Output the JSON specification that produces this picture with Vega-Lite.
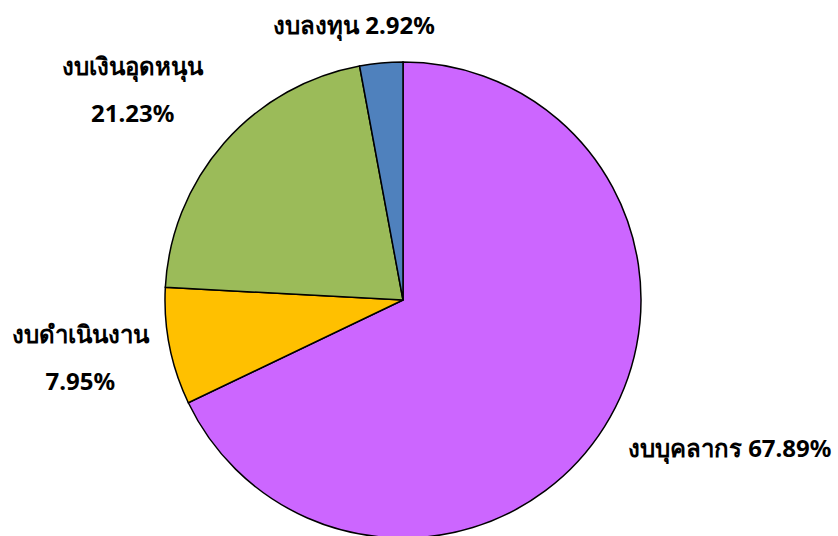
{
  "$schema": "https://vega.github.io/schema/vega-lite/v6.json",
  "autosize": {"type": "none"},
  "width": 806,
  "height": 472,
  "padding": {"left": 0, "top": 64, "right": 32, "bottom": 0},
  "background": "white",
  "data": {
    "values": [
      {"order": 1, "category": "งบบุคลากร", "value": 67.89, "label": "งบบุคลากร 67.89%"},
      {"order": 2, "category": "งบดำเนินงาน", "value": 7.95, "label": "งบดำเนินงาน\n7.95%"},
      {"order": 3, "category": "งบเงินอุดหนุน", "value": 21.23, "label": "งบเงินอุดหนุน\n21.23%"},
      {"order": 4, "category": "งบลงทุน", "value": 2.92, "label": "งบลงทุน 2.92%"}
    ]
  },
  "encoding": {
    "theta": {"field": "value", "type": "quantitative", "stack": true},
    "order": {"field": "order", "type": "quantitative"}
  },
  "layer": [
    {
      "mark": {"type": "arc", "outerRadius": 238, "stroke": "black", "strokeWidth": 1.5},
      "encoding": {
        "color": {
          "field": "category",
          "type": "nominal",
          "scale": {
            "domain": ["งบบุคลากร", "งบดำเนินงาน", "งบเงินอุดหนุน", "งบลงทุน"],
            "range": ["#CC66FF", "#FFC000", "#9BBB59", "#4F81BD"]
          },
          "legend": null
        }
      }
    },
    {
      "mark": {"type": "text", "radius": 340, "dx": 39, "dy": -31, "fontSize": 24, "fontWeight": "bold", "font": "Tahoma, Noto Sans, DejaVu Sans", "color": "black"},
      "encoding": {"text": {"condition": {"test": "datum.order === 1", "field": "label"}, "value": ""}}
    },
    {
      "mark": {"type": "text", "radius": 330, "dx": 1, "dy": -28, "fontSize": 24, "fontWeight": "bold", "font": "Tahoma, Noto Sans, DejaVu Sans", "lineBreak": "\n", "lineHeight": 47, "color": "black"},
      "encoding": {"text": {"condition": {"test": "datum.order === 2", "field": "label"}, "value": ""}}
    },
    {
      "mark": {"type": "text", "radius": 345, "dx": -11, "dy": -4, "fontSize": 24, "fontWeight": "bold", "font": "Tahoma, Noto Sans, DejaVu Sans", "lineBreak": "\n", "lineHeight": 47, "color": "black"},
      "encoding": {"text": {"condition": {"test": "datum.order === 3", "field": "label"}, "value": ""}}
    },
    {
      "mark": {"type": "text", "radius": 274, "dx": -24, "dy": 0, "fontSize": 24, "fontWeight": "bold", "font": "Tahoma, Noto Sans, DejaVu Sans", "color": "black"},
      "encoding": {"text": {"condition": {"test": "datum.order === 4", "field": "label"}, "value": ""}}
    }
  ]
}
